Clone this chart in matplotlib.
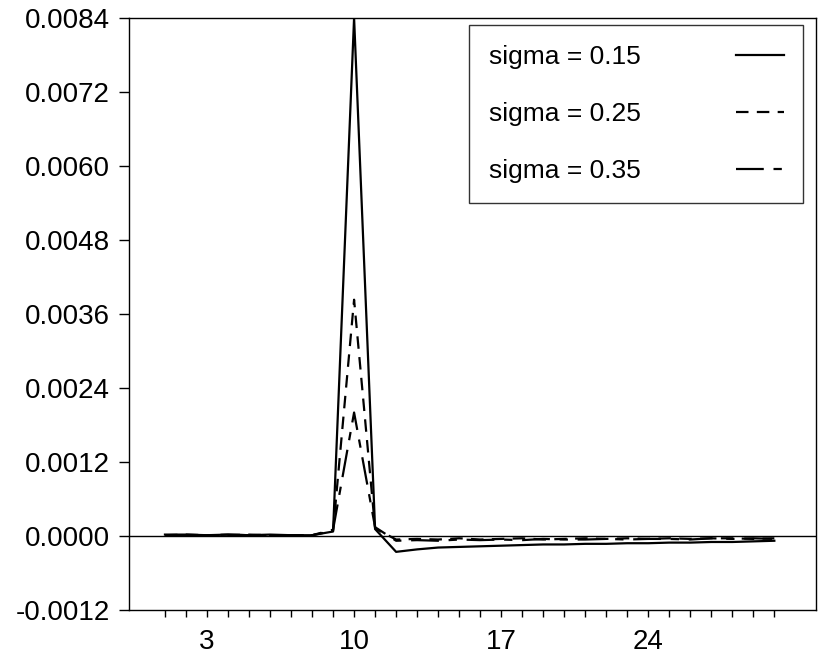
import matplotlib
matplotlib.use("Agg")
import matplotlib.pyplot as plt
from matplotlib.ticker import FixedLocator, FuncFormatter

plt.rcParams['font.family'] = ['Liberation Sans', 'DejaVu Sans']
plt.rcParams['lines.scale_dashes'] = False

# periods after the shock
periods = list(range(1, 31))

# responses for the three volatility settings
resp_015 = [0.00002, 0.00002, 0.00001, 0.00002, 0.00001, 0.00002, 0.00001, 0.00001,
            0.00007, 0.00840, 0.00011,
            -0.00026, -0.00022, -0.00019, -0.00018, -0.00017, -0.00016, -0.00015,
            -0.00014, -0.00014, -0.00013, -0.00013, -0.00012, -0.00012, -0.00011,
            -0.00011, -0.00010, -0.00010, -0.00009, -0.00008]
resp_025 = [0.00001, 0.00002, 0.00001, 0.00001, 0.00002, 0.00001, 0.00001, 0.00001,
            0.00008, 0.00383, 0.00012,
            -0.00006, -0.00005, -0.00006, -0.00004, -0.00006, -0.00005, -0.00004,
            -0.00006, -0.00005, -0.00004, -0.00005, -0.00004, -0.00005, -0.00004,
            -0.00005, -0.00004, -0.00004, -0.00005, -0.00004]
resp_035 = [0.00001, 0.00001, 0.00001, 0.00002, 0.00001, 0.00001, 0.00001, 0.00001,
            0.00010, 0.00200, 0.00014,
            -0.00008, -0.00007, -0.00008, -0.00006, -0.00007, -0.00006, -0.00007,
            -0.00005, -0.00006, -0.00006, -0.00005, -0.00006, -0.00005, -0.00005,
            -0.00006, -0.00004, -0.00005, -0.00004, -0.00005]

series_labels = ['sigma = 0.15', 'sigma = 0.25', 'sigma = 0.35']
y_ticks = [-0.0012, 0.0000, 0.0012, 0.0024, 0.0036, 0.0048, 0.0060, 0.0072, 0.0084]
x_labelled = [3, 10, 17, 24]

fig = plt.figure(figsize=(8.18, 6.65), dpi=100)
ax = fig.add_axes([0.158, 0.083, 0.840, 0.890])

lw = 1.6
ax.plot(periods, resp_015, color='black', lw=lw, linestyle='-', label=series_labels[0])
ax.plot(periods, resp_025, color='black', lw=lw, linestyle=(0, (9, 6)), label=series_labels[1])
ax.plot(periods, resp_035, color='black', lw=lw, linestyle=(0, (20, 7, 6, 7)), label=series_labels[2])
ax.axhline(0.0, color='black', lw=1.0)

ax.set_xlim(-0.7, 32.0)
ax.set_ylim(-0.0012, 0.0084)

ax.yaxis.set_major_locator(FixedLocator(y_ticks))
ax.yaxis.set_major_formatter(FuncFormatter(lambda v, p: f"{v:.4f}"))
ax.xaxis.set_major_locator(FixedLocator(x_labelled))
ax.xaxis.set_minor_locator(FixedLocator([p for p in periods if p not in x_labelled]))
ax.xaxis.set_major_formatter(FuncFormatter(lambda v, p: f"{int(v)}"))

ax.tick_params(axis='y', direction='out', length=7, width=1.0, labelsize=20, pad=7)
ax.tick_params(axis='x', which='both', direction='out', length=5, width=1.0,
               labelsize=20, pad=9)

for s in ax.spines.values():
    s.set_linewidth(1.0)
    s.set_color('black')

leg = ax.legend(loc='upper right', bbox_to_anchor=(0.981, 0.988), markerfirst=False,
                handlelength=1.8, handletextpad=3.6, labelspacing=1.25, fontsize=19,
                frameon=True, fancybox=False, borderpad=0.75, borderaxespad=0.0)
leg.get_frame().set_edgecolor('black')
leg.get_frame().set_linewidth(1.0)

fig.savefig('out.png', dpi=100)
